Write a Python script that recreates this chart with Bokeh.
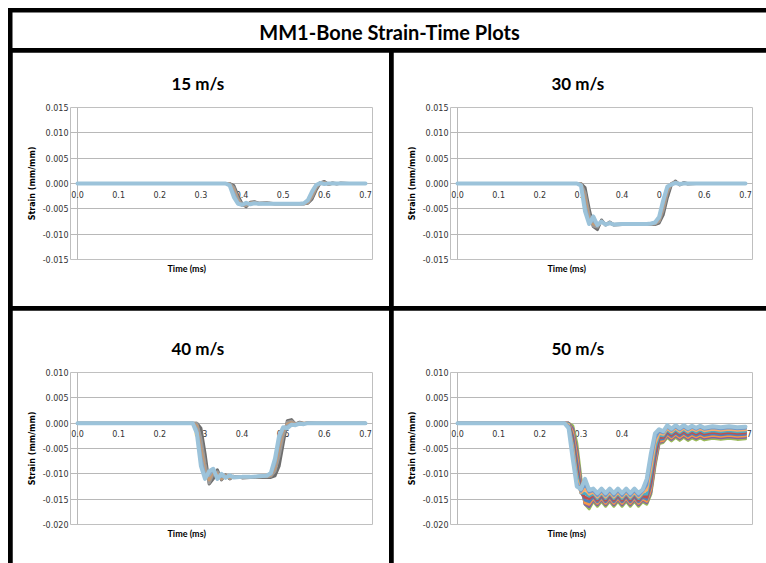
from bokeh.plotting import figure
from bokeh.layouts import column, row
from bokeh.models import Range1d, FixedTicker, NumeralTickFormatter, Title
from bokeh.embed import file_html
from bokeh.resources import INLINE
from bokeh.core.properties import value

# ---------------- texts / ticks ----------------
main_title = "MM1-Bone Strain-Time Plots"
title_15 = "15 m/s"
title_30 = "30 m/s"
title_40 = "40 m/s"
title_50 = "50 m/s"
x_label = "Time (ms)"
y_label = "Strain (mm/mm)"
x_ticks = [0.0, 0.1, 0.2, 0.3, 0.4, 0.5, 0.6, 0.7]
y_ticks_top = [-0.015, -0.010, -0.005, 0.0, 0.005, 0.010, 0.015]
y_ticks_bottom = [-0.020, -0.015, -0.010, -0.005, 0.0, 0.005, 0.010]

# ---------------- 15 m/s ----------------
t_15 = [0.0, 0.30, 0.36, 0.37, 0.38, 0.39, 0.40, 0.41, 0.42, 0.43, 0.44, 0.46, 0.48, 0.50,
        0.52, 0.54, 0.55, 0.56, 0.57, 0.58, 0.59, 0.60, 0.61, 0.62, 0.63, 0.64, 0.66, 0.68, 0.70]
s15_1 = [0, 0, 0, 0, -0.0004, -0.0024, -0.0040, -0.0046, -0.0037, -0.0036, -0.0039, -0.0038, -0.0040, -0.0040,
         -0.0040, -0.0040, -0.0040, -0.0039, -0.0031, -0.0013, 0.0001, 0.0004, -0.0002, 0.0001, -0.0001, 0.0001, 0, 0, 0]
s15_2 = [0, 0, 0, 0, -0.0008, -0.0030, -0.0042, -0.0044, -0.0038, -0.0037, -0.0039, -0.0039, -0.0040, -0.0040,
         -0.0040, -0.0040, -0.0040, -0.0038, -0.0027, -0.0009, 0.0002, 0.0002, -0.0001, 0.0001, 0, 0, 0, 0, 0]
s15_3 = [0, 0, 0, -0.0001, -0.0013, -0.0034, -0.0043, -0.0042, -0.0039, -0.0038, -0.0040, -0.0039, -0.0040, -0.0040,
         -0.0040, -0.0040, -0.0040, -0.0037, -0.0023, -0.0006, 0.0002, 0.0001, -0.0001, 0, 0, 0, 0, 0, 0]
s15_4 = [0, 0, 0, -0.0002, -0.0019, -0.0037, -0.0043, -0.0040, -0.0040, -0.0039, -0.0040, -0.0040, -0.0040, -0.0040,
         -0.0040, -0.0040, -0.0040, -0.0035, -0.0019, -0.0004, 0.0001, 0, 0, 0, 0, 0, 0, 0, 0]
s15_5 = [0, 0, 0, -0.0004, -0.0027, -0.0040, -0.0042, -0.0038, -0.0041, -0.0039, -0.0040, -0.0040, -0.0040, -0.0040,
         -0.0040, -0.0040, -0.0039, -0.0033, -0.0016, -0.0003, 0.0001, -0.0001, 0, 0, 0, 0, 0, 0, 0]

# ---------------- 30 m/s ----------------
t_30 = [0.0, 0.28, 0.29, 0.30, 0.31, 0.32, 0.33, 0.34, 0.35, 0.36, 0.37, 0.38, 0.40, 0.42, 0.44,
        0.46, 0.47, 0.48, 0.49, 0.50, 0.51, 0.52, 0.53, 0.54, 0.55, 0.56, 0.58, 0.60, 0.65, 0.70]
s30_1 = [0, 0, 0, 0, -0.0008, -0.0050, -0.0085, -0.0091, -0.0072, -0.0082, -0.0076, -0.0082, -0.0081, -0.0081, -0.0081,
         -0.0081, -0.0081, -0.0081, -0.0078, -0.0062, -0.0028, -0.0002, 0.0005, -0.0003, 0.0002, -0.0001, 0, 0, 0, 0]
s30_2 = [0, 0, 0, 0, -0.0018, -0.0062, -0.0084, -0.0086, -0.0074, -0.0081, -0.0077, -0.0081, -0.0081, -0.0081, -0.0081,
         -0.0081, -0.0080, -0.0080, -0.0075, -0.0053, -0.0019, 0.0000, 0.0003, -0.0002, 0.0001, 0, 0, 0, 0, 0]
s30_3 = [0, 0, 0, -0.0001, -0.0030, -0.0071, -0.0080, -0.0082, -0.0075, -0.0081, -0.0078, -0.0081, -0.0080, -0.0081, -0.0080,
         -0.0080, -0.0080, -0.0079, -0.0072, -0.0045, -0.0013, -0.0001, 0.0002, -0.0001, 0, 0, 0, 0, 0, 0]
s30_4 = [0, 0, 0, -0.0002, -0.0042, -0.0077, -0.0073, -0.0082, -0.0075, -0.0081, -0.0078, -0.0081, -0.0080, -0.0080, -0.0080,
         -0.0080, -0.0080, -0.0078, -0.0069, -0.0039, -0.0009, -0.0001, 0.0001, 0, 0, 0, 0, 0, 0, 0]
s30_5 = [0, 0, 0, -0.0004, -0.0055, -0.0080, -0.0065, -0.0082, -0.0075, -0.0081, -0.0078, -0.0081, -0.0080, -0.0080, -0.0080,
         -0.0080, -0.0079, -0.0077, -0.0066, -0.0033, -0.0006, -0.0002, 0.0001, -0.0001, 0, 0, 0, 0, 0, 0]

# ---------------- 40 m/s ----------------
t_40 = [0.0, 0.27, 0.28, 0.29, 0.30, 0.31, 0.32, 0.33, 0.34, 0.35, 0.36, 0.37, 0.38, 0.40, 0.42, 0.44,
        0.46, 0.47, 0.48, 0.49, 0.50, 0.51, 0.52, 0.53, 0.54, 0.55, 0.56, 0.58, 0.60, 0.65, 0.70]
s40_1 = [0, 0, 0, 0, -0.0010, -0.0060, -0.0120, -0.0110, -0.0092, -0.0112, -0.0102, -0.0110, -0.0105, -0.0108, -0.0107, -0.0107,
         -0.0107, -0.0107, -0.0104, -0.0085, -0.0040, 0.0005, 0.0007, -0.0002, 0.0002, -0.0001, 0.0001, 0, 0, 0, 0]
s40_2 = [0, 0, 0, 0, -0.0030, -0.0080, -0.0118, -0.0100, -0.0096, -0.0110, -0.0103, -0.0109, -0.0105, -0.0107, -0.0107, -0.0106,
         -0.0106, -0.0105, -0.0095, -0.0065, -0.0025, 0.0002, 0.0004, -0.0001, 0.0001, 0, 0, 0, 0, 0, 0]
s40_3 = [0, 0, 0, -0.0005, -0.0050, -0.0095, -0.0112, -0.0094, -0.0100, -0.0110, -0.0104, -0.0108, -0.0105, -0.0107, -0.0106, -0.0106,
         -0.0105, -0.0103, -0.0088, -0.0048, -0.0015, -0.0002, 0.0001, -0.0002, 0, 0, 0, 0, 0, 0, 0]
s40_4 = [0, 0, 0, -0.0012, -0.0068, -0.0104, -0.0103, -0.0091, -0.0106, -0.0105, -0.0106, -0.0105, -0.0106, -0.0106, -0.0106, -0.0105,
         -0.0104, -0.0101, -0.0080, -0.0036, -0.0010, -0.0006, -0.0002, -0.0002, 0, -0.0001, 0, 0, 0, 0, 0]
s40_5 = [0, 0, 0, -0.0020, -0.0085, -0.0110, -0.0095, -0.0090, -0.0110, -0.0100, -0.0108, -0.0103, -0.0107, -0.0106, -0.0106, -0.0105,
         -0.0104, -0.0098, -0.0070, -0.0025, -0.0008, -0.0010, -0.0003, -0.0004, -0.0001, -0.0002, 0, 0, 0, 0, 0]

# ---------------- 50 m/s ----------------
t_50 = [0.0, 0.25, 0.26, 0.27, 0.28, 0.29, 0.30, 0.31, 0.32, 0.33, 0.34, 0.35, 0.36, 0.37, 0.38, 0.39, 0.40,
        0.41, 0.42, 0.43, 0.44, 0.45, 0.46, 0.47, 0.48, 0.49, 0.50, 0.51, 0.52, 0.53, 0.54, 0.55, 0.56, 0.57,
        0.58, 0.59, 0.60, 0.62, 0.64, 0.66, 0.68, 0.70]
s50_1 = [0, 0, 0, 0, -0.0005, -0.0040, -0.0108, -0.0160, -0.0169, -0.0154, -0.0164, -0.0154, -0.0164, -0.0154, -0.0164, -0.0154, -0.0164,
         -0.0154, -0.0164, -0.0154, -0.0164, -0.0155, -0.0160, -0.0140, -0.0085, -0.0040, -0.0038, -0.0028, -0.0035, -0.0028, -0.0034, -0.0028, -0.0034, -0.0029,
         -0.0033, -0.0029, -0.0033, -0.0030, -0.0032, -0.0030, -0.0032, -0.0031]
s50_2 = [0, 0, 0, 0, -0.0011, -0.0053, -0.0118, -0.0160, -0.0165, -0.0151, -0.0161, -0.0151, -0.0161, -0.0151, -0.0161, -0.0151, -0.0161,
         -0.0151, -0.0161, -0.0151, -0.0161, -0.0152, -0.0157, -0.0136, -0.0080, -0.0038, -0.0036, -0.0025, -0.0032, -0.0025, -0.0031, -0.0025, -0.0031, -0.0026,
         -0.0030, -0.0026, -0.0030, -0.0027, -0.0029, -0.0027, -0.0029, -0.0028]
s50_3 = [0, 0, 0, 0, -0.0018, -0.0066, -0.0126, -0.0157, -0.0160, -0.0148, -0.0158, -0.0148, -0.0158, -0.0148, -0.0158, -0.0148, -0.0158,
         -0.0148, -0.0158, -0.0148, -0.0158, -0.0149, -0.0154, -0.0130, -0.0075, -0.0035, -0.0034, -0.0022, -0.0029, -0.0022, -0.0028, -0.0022, -0.0028, -0.0023,
         -0.0027, -0.0023, -0.0027, -0.0024, -0.0026, -0.0024, -0.0026, -0.0025]
s50_4 = [0, 0, 0, 0, -0.0026, -0.0078, -0.0133, -0.0152, -0.0155, -0.0145, -0.0155, -0.0145, -0.0155, -0.0145, -0.0155, -0.0145, -0.0155,
         -0.0145, -0.0155, -0.0145, -0.0155, -0.0146, -0.0150, -0.0122, -0.0068, -0.0032, -0.0031, -0.0019, -0.0026, -0.0019, -0.0025, -0.0019, -0.0025, -0.0020,
         -0.0024, -0.0020, -0.0024, -0.0021, -0.0023, -0.0021, -0.0023, -0.0022]
s50_5 = [0, 0, 0, 0, -0.0034, -0.0090, -0.0137, -0.0146, -0.0149, -0.0142, -0.0152, -0.0142, -0.0152, -0.0142, -0.0152, -0.0142, -0.0152,
         -0.0142, -0.0152, -0.0142, -0.0152, -0.0143, -0.0146, -0.0113, -0.0060, -0.0028, -0.0028, -0.0016, -0.0023, -0.0016, -0.0022, -0.0016, -0.0022, -0.0017,
         -0.0021, -0.0017, -0.0021, -0.0018, -0.0020, -0.0018, -0.0020, -0.0019]
s50_6 = [0, 0, 0, -0.0001, -0.0042, -0.0100, -0.0138, -0.0139, -0.0144, -0.0139, -0.0149, -0.0139, -0.0149, -0.0139, -0.0149, -0.0139, -0.0149,
         -0.0139, -0.0149, -0.0139, -0.0149, -0.0140, -0.0140, -0.0102, -0.0050, -0.0024, -0.0025, -0.0013, -0.0020, -0.0013, -0.0019, -0.0013, -0.0019, -0.0014,
         -0.0018, -0.0014, -0.0018, -0.0015, -0.0017, -0.0015, -0.0017, -0.0016]
s50_7 = [0, 0, 0, -0.0003, -0.0050, -0.0110, -0.0137, -0.0130, -0.0140, -0.0136, -0.0146, -0.0136, -0.0146, -0.0136, -0.0146, -0.0136, -0.0146,
         -0.0136, -0.0146, -0.0136, -0.0146, -0.0137, -0.0132, -0.0090, -0.0040, -0.0020, -0.0022, -0.0010, -0.0017, -0.0010, -0.0016, -0.0010, -0.0016, -0.0011,
         -0.0015, -0.0011, -0.0015, -0.0012, -0.0014, -0.0012, -0.0014, -0.0013]
s50_8 = [0, 0, 0, -0.0006, -0.0060, -0.0118, -0.0134, -0.0120, -0.0136, -0.0133, -0.0143, -0.0133, -0.0143, -0.0133, -0.0143, -0.0133, -0.0143,
         -0.0133, -0.0143, -0.0133, -0.0143, -0.0134, -0.0122, -0.0075, -0.0030, -0.0016, -0.0019, -0.0007, -0.0014, -0.0007, -0.0013, -0.0007, -0.0013, -0.0008,
         -0.0012, -0.0008, -0.0012, -0.0009, -0.0011, -0.0009, -0.0011, -0.0010]
s50_9 = [0, 0, 0, -0.0010, -0.0070, -0.0125, -0.0130, -0.0110, -0.0132, -0.0129, -0.0138, -0.0129, -0.0138, -0.0129, -0.0138, -0.0129, -0.0138,
         -0.0129, -0.0138, -0.0129, -0.0138, -0.0131, -0.0110, -0.0060, -0.0020, -0.0012, -0.0016, -0.0004, -0.0011, -0.0004, -0.0010, -0.0004, -0.0010, -0.0005,
         -0.0009, -0.0005, -0.0009, -0.0006, -0.0008, -0.0006, -0.0008, -0.0007]

colors_a = ["#6e6e6e", "#9a9a9a", "#c39b77", "#8ea9c1", "#9cc3da"]
colors_50 = ["#9bbb59", "#8064a2", "#f79646", "#4f81bd", "#c0504d", "#4bacc6", "#f9ab6b", "#729aca", "#9cc3da"]

GRID = "#b8b8b8"
TITLE_FONT = "Lato"
PLOT_W_PX = 288      # pixel width between x=0.0 and x=0.7
PAD_PX = 7           # room on both sides so the 0.0 / 0.7 labels are not clipped


def make_panel(title, width, height, yticks, times, series, colors, borders):
    left, right, top, bottom = borders
    span = x_ticks[-1] - x_ticks[0]
    pad = PAD_PX * span / PLOT_W_PX
    p = figure(width=width, height=height,
               x_range=Range1d(x_ticks[0] - pad, x_ticks[-1] + pad),
               y_range=Range1d(yticks[0], yticks[-1]),
               toolbar_location=None, output_backend="svg",
               min_border_left=left, min_border_right=right,
               min_border_top=top, min_border_bottom=bottom)
    p.outline_line_color = None
    p.background_fill_color = "white"
    p.border_fill_color = "white"

    p.title.text = title
    p.title.align = "left"
    p.title.text_font = TITLE_FONT
    p.title.text_font_style = "bold"
    p.title.text_font_size = "17px"
    p.title.text_color = "black"
    p.title.offset = 101
    p.title.standoff = 28

    # horizontal grid lines between x=0.0 and x=0.7
    p.ygrid.ticker = FixedTicker(ticks=yticks)
    p.ygrid.bounds = (x_ticks[0], x_ticks[-1])
    p.ygrid.grid_line_color = GRID
    p.ygrid.grid_line_width = 1
    # vertical axis line at x=0.0
    p.xgrid.ticker = FixedTicker(ticks=[x_ticks[0]])
    p.xgrid.bounds = (yticks[0], yticks[-1])
    p.xgrid.grid_line_color = GRID
    p.xgrid.grid_line_width = 1

    ya = p.yaxis[0]
    ya.ticker = FixedTicker(ticks=yticks)
    ya.formatter = NumeralTickFormatter(format="0.000")
    ya.axis_line_color = None
    ya.major_tick_out = 0
    ya.major_tick_in = 0
    ya.minor_tick_out = 0
    ya.minor_tick_in = 0
    ya.major_label_standoff = 2
    ya.major_label_text_font = "DejaVu Sans"
    ya.major_label_text_font_size = "8px"
    ya.major_label_text_color = "#333333"
    ya.axis_label = y_label
    ya.axis_label_text_font = "DejaVu Sans"
    ya.axis_label_text_font_style = "bold"
    ya.axis_label_text_font_size = "8px"
    ya.axis_label_text_color = "black"
    ya.axis_label_standoff = 3

    xa = p.xaxis[0]
    xa.fixed_location = 0
    xa.ticker = FixedTicker(ticks=x_ticks)
    xa.formatter = NumeralTickFormatter(format="0.0")
    xa.axis_line_color = None
    xa.major_tick_out = 0
    xa.major_tick_in = 0
    xa.minor_tick_out = 0
    xa.minor_tick_in = 0
    xa.major_label_standoff = 7
    xa.major_label_text_font = "DejaVu Sans"
    xa.major_label_text_font_size = "8px"
    xa.major_label_text_color = "#333333"

    p.add_layout(Title(text=x_label, align="left", text_font=TITLE_FONT,
                       text_font_style="bold", text_font_size="9px",
                       text_color="black", offset=97, standoff=2), "below")

    n = len(series)
    for i, (vals, c) in enumerate(zip(series, colors)):
        lw = 4 if i == n - 1 else 3
        r = p.line(times, vals, line_color=c, line_width=lw, line_join="round", line_cap="round")
        r.level = "overlay"
    return p


f15 = make_panel(title_15, 377, 254, y_ticks_top, t_15,
                 [s15_1, s15_2, s15_3, s15_4, s15_5], colors_a, (58, 17, 55, 47))
f30 = make_panel(title_30, 373, 254, y_ticks_top, t_30,
                 [s30_1, s30_2, s30_3, s30_4, s30_5], colors_a, (57, 14, 55, 47))
f40 = make_panel(title_40, 377, 253, y_ticks_bottom, t_40,
                 [s40_1, s40_2, s40_3, s40_4, s40_5], colors_a, (58, 17, 62, 39))
f50 = make_panel(title_50, 373, 253, y_ticks_bottom, t_50,
                 [s50_1, s50_2, s50_3, s50_4, s50_5, s50_6, s50_7, s50_8, s50_9], colors_50,
                 (57, 14, 62, 39))

tp = figure(width=754, height=36, x_range=Range1d(0, 1), y_range=Range1d(0, 1),
            toolbar_location=None, output_backend="svg", min_border=0,
            x_axis_location=None, y_axis_location=None)
tp.grid.visible = False
tp.outline_line_color = None
tp.background_fill_color = "white"
tp.border_fill_color = "white"
tp.text(x=[0.5], y=[0.45], text=[main_title], text_align="center", text_baseline="middle",
        text_font=value(TITLE_FONT), text_font_style="bold", text_font_size="20px", text_color="black")

r1 = row(f15, f30, spacing=4)
r2 = row(f40, f50, spacing=4)
page = column(tp, r1, r2, spacing=4, margin=(8, 0, 0, 8),
              styles={"background-color": "black", "padding-top": "4px", "padding-left": "4px"})

open("out.html", "w").write(file_html(page, INLINE))
